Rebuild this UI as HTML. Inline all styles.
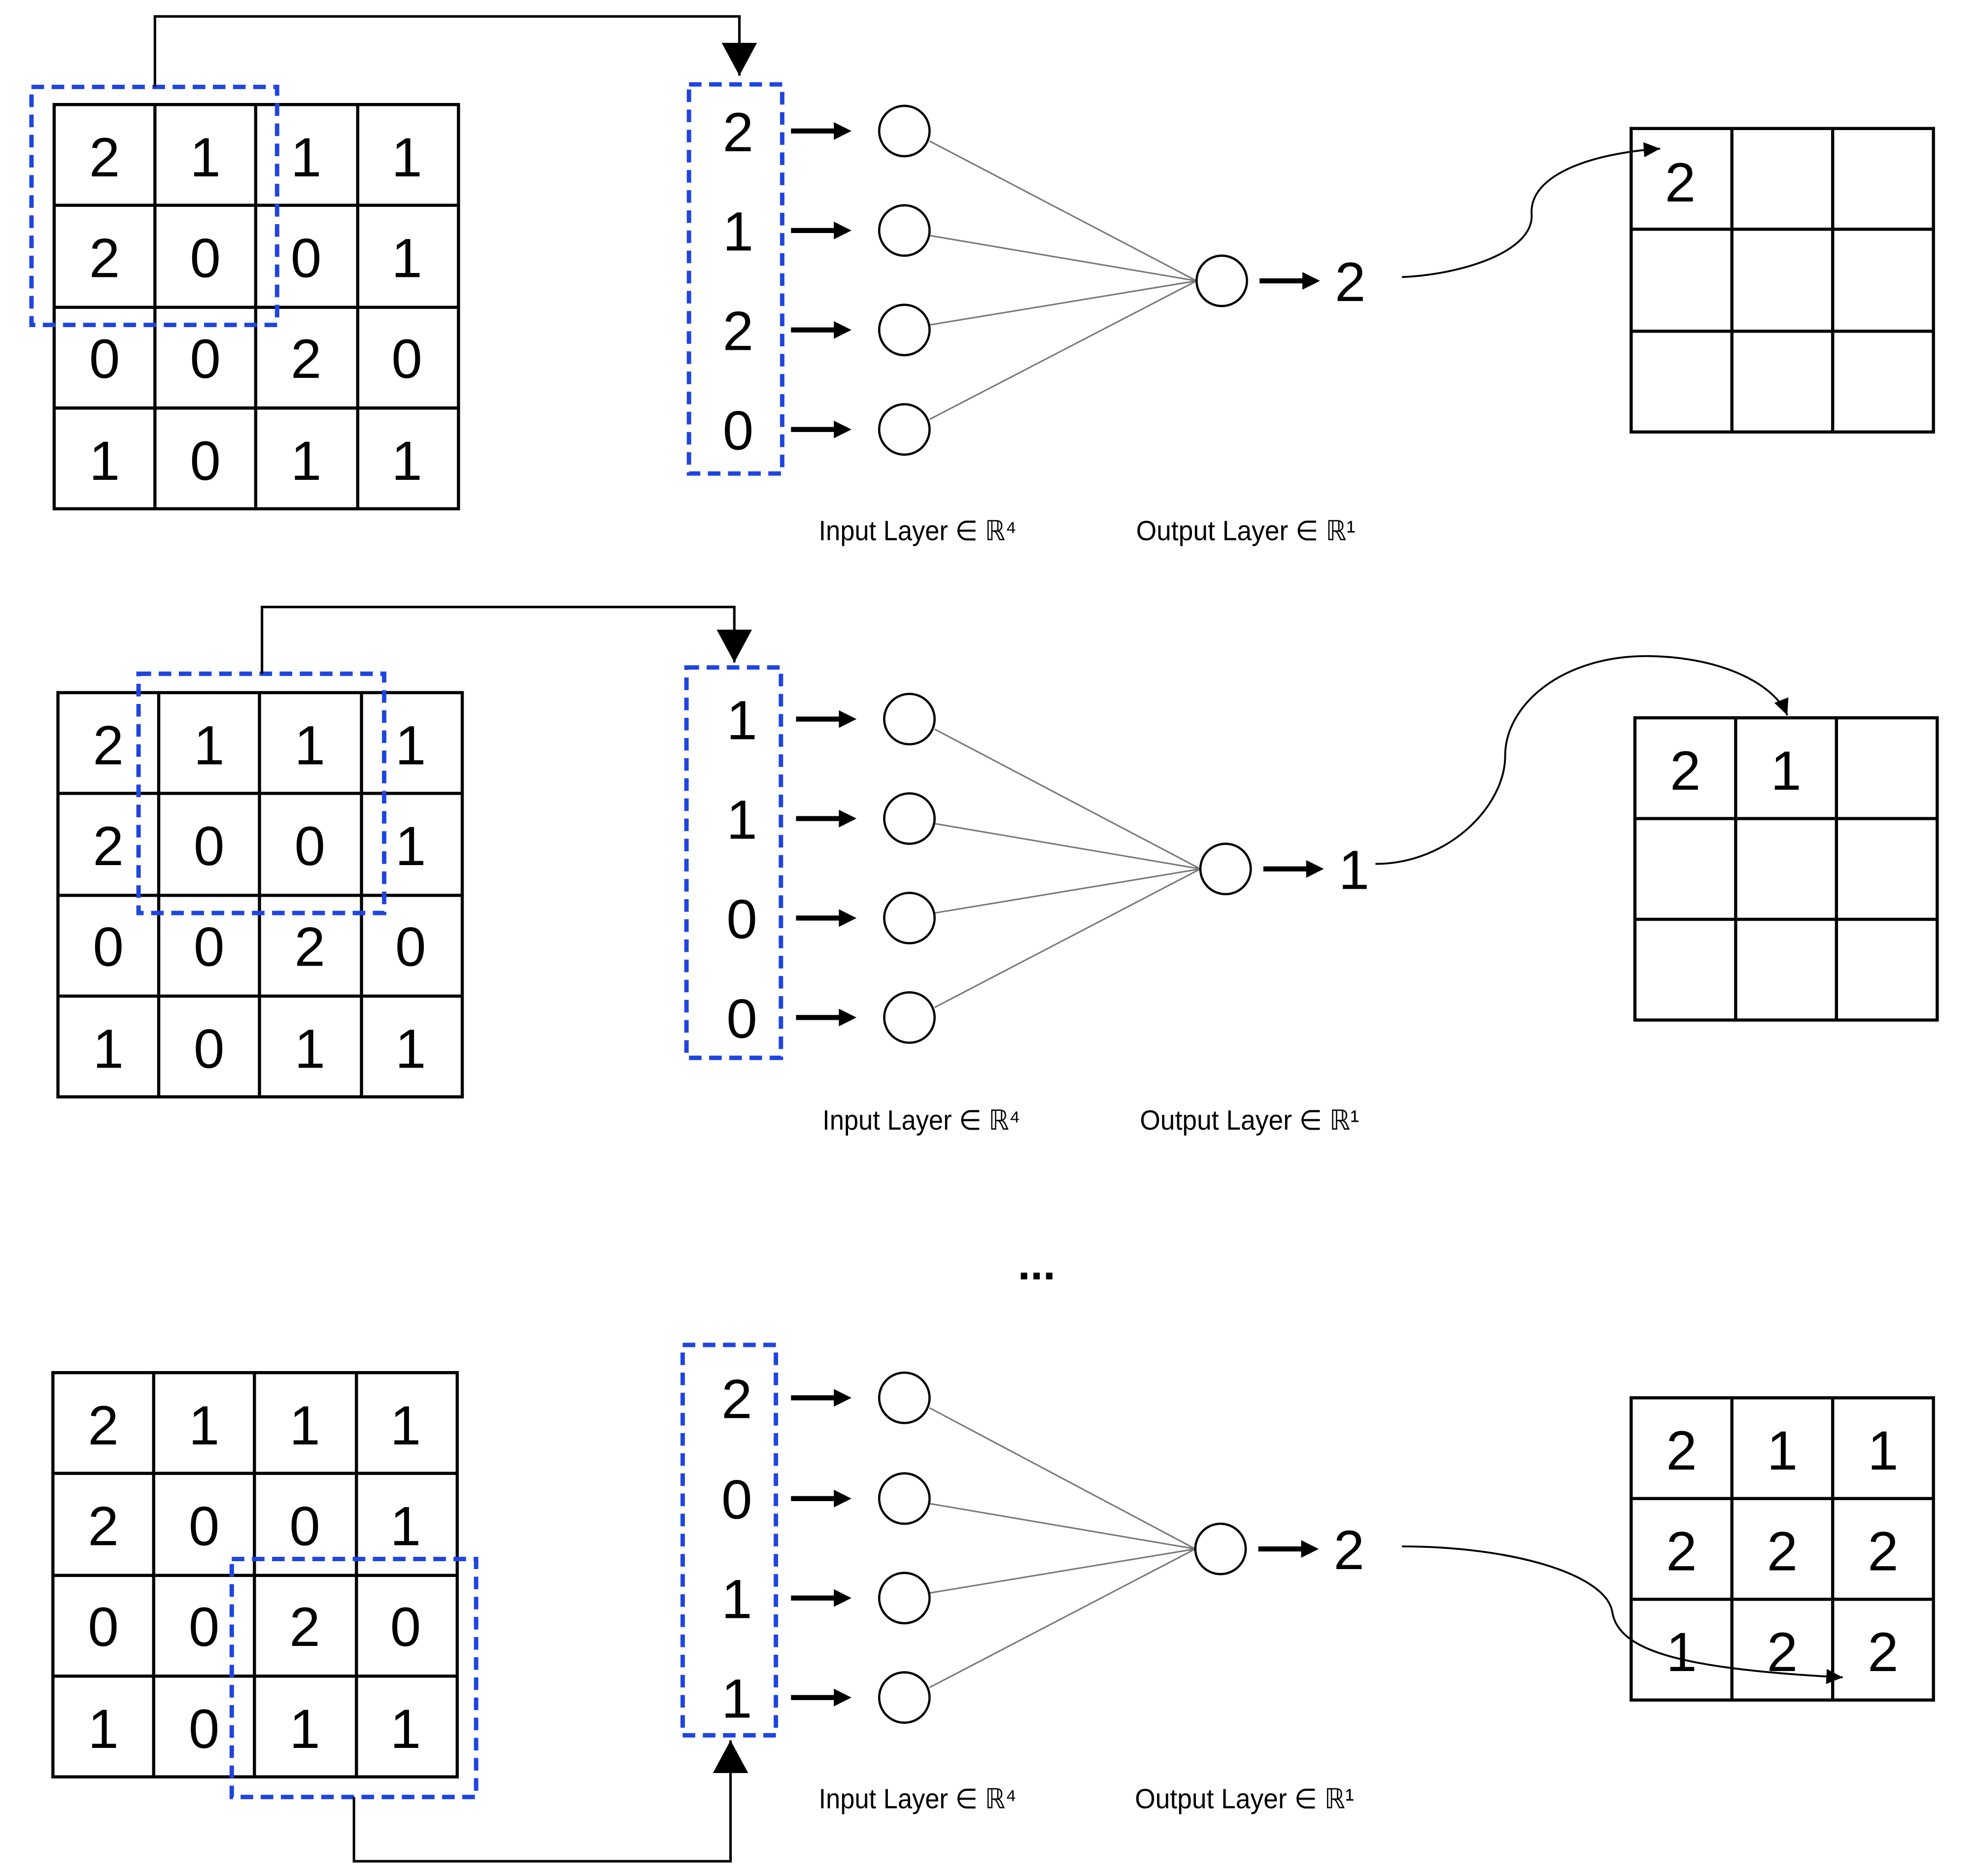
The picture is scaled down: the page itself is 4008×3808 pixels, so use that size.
<!DOCTYPE html>
<html><head><meta charset="utf-8"><style>html,body{margin:0;padding:0;background:#fff}svg{display:block}</style></head>
<body>
<svg width="4008" height="3808" viewBox="0 0 1568 1489.7" xmlns="http://www.w3.org/2000/svg" font-family="Liberation Sans, sans-serif">
<defs>
<marker id="ab" markerWidth="28" markerHeight="28" refX="26" refY="14" orient="auto" markerUnits="userSpaceOnUse"><path d="M0,0 L26,14 L0,28z" fill="#000"/></marker>
<marker id="as" markerWidth="14" markerHeight="14" refX="13" refY="7" orient="auto" markerUnits="userSpaceOnUse"><path d="M0,1 L13,7 L0,13z" fill="#000"/></marker>
<path id="arr" d="M0 -2H34V-7L48 0L34 7V2H0z" fill="#000"/>
</defs>
<g fill="none" stroke="#000" stroke-width="2.5">
<rect x="43" y="83" width="321" height="321"/>
<path d="M123 83V404M203 83V404M284 83V404M43 163H364M43 244H364M43 324H364"/>
<rect x="46" y="550" width="321" height="321"/>
<path d="M126 550V871M206 550V871M287 550V871M46 630H367M46 711H367M46 791H367"/>
<rect x="42" y="1090" width="321" height="321"/>
<path d="M122 1090V1411M202 1090V1411M283 1090V1411M42 1170H363M42 1251H363M42 1331H363"/>
<rect x="1295" y="102" width="240" height="241"/>
<path d="M1375 102V343M1455 102V343M1295 182H1535M1295 263H1535"/>
<rect x="1298" y="570" width="240" height="240"/>
<path d="M1378 570V810M1458 570V810M1298 650H1538M1298 730H1538"/>
<rect x="1295" y="1110" width="240" height="240"/>
<path d="M1375 1110V1350M1455 1110V1350M1295 1190H1535M1295 1270H1535"/>
</g>
<g fill="none" stroke="#1f45e0" stroke-width="3.5" stroke-dasharray="10,6">
<rect x="25" y="69" width="195" height="189"/>
<rect x="547" y="67" width="74" height="309"/>
<rect x="110" y="535" width="195" height="190"/>
<rect x="545" y="530" width="75" height="310"/>
<rect x="184" y="1238" width="194" height="189"/>
<rect x="542" y="1068" width="74" height="310"/>
</g>
<g fill="none" stroke="#000" stroke-width="2">
<path d="M123 69V13H587V60" marker-end="url(#ab)"/>
<path d="M208 535V482H583V526" marker-end="url(#ab)"/>
<path d="M281 1427V1478H580V1382" marker-end="url(#ab)"/>
</g>
<g fill="none" stroke="#000" stroke-width="1.5">
<path d="M1113 220C1160 218 1218 200 1216 170C1214 140 1260 122 1318 118" marker-end="url(#as)"/>
<path d="M1092 686C1150 686 1195 640 1195 600C1195 560 1240 520 1310 521C1370 522 1410 545 1419 568" marker-end="url(#as)"/>
<path d="M1113 1228C1200 1228 1275 1250 1280 1280C1285 1310 1330 1325 1463 1332" marker-end="url(#as)"/>
</g>
<use href="#arr" x="628" y="104"/><use href="#arr" x="628" y="183"/><use href="#arr" x="628" y="262"/><use href="#arr" x="628" y="341"/><use href="#arr" x="1000" y="223"/>
<use href="#arr" x="632" y="571"/><use href="#arr" x="632" y="650"/><use href="#arr" x="632" y="729"/><use href="#arr" x="632" y="808"/><use href="#arr" x="1003" y="690"/>
<use href="#arr" x="628" y="1110"/><use href="#arr" x="628" y="1190"/><use href="#arr" x="628" y="1269"/><use href="#arr" x="628" y="1348"/><use href="#arr" x="999" y="1230"/>
<g stroke="#777" stroke-width="1.2">
<path d="M738 112L950 223M738 187L950 223M738 258L950 223M738 333L950 223"/>
<path d="M742 579L953 690M742 654L953 690M742 725L953 690M742 800L953 690"/>
<path d="M738 1118L949 1230M738 1194L949 1230M738 1265L949 1230M738 1340L949 1230"/>
</g>
<g fill="#fff" stroke="#000" stroke-width="1.8">
<circle cx="718" cy="104" r="20"/><circle cx="718" cy="183" r="20"/><circle cx="718" cy="262" r="20"/><circle cx="718" cy="341" r="20"/><circle cx="970" cy="223" r="20"/>
<circle cx="722" cy="571" r="20"/><circle cx="722" cy="650" r="20"/><circle cx="722" cy="729" r="20"/><circle cx="722" cy="808" r="20"/><circle cx="973" cy="690" r="20"/>
<circle cx="718" cy="1110" r="20"/><circle cx="718" cy="1190" r="20"/><circle cx="718" cy="1269" r="20"/><circle cx="718" cy="1348" r="20"/><circle cx="969" cy="1230" r="20"/>
</g>
<g font-size="44" text-anchor="middle" fill="#000">
<text x="83" y="140">2</text><text x="163" y="140">1</text><text x="243" y="140">1</text><text x="323" y="140">1</text>
<text x="83" y="220">2</text><text x="163" y="220">0</text><text x="243" y="220">0</text><text x="323" y="220">1</text>
<text x="83" y="300">0</text><text x="163" y="300">0</text><text x="243" y="300">2</text><text x="323" y="300">0</text>
<text x="83" y="381">1</text><text x="163" y="381">0</text><text x="243" y="381">1</text><text x="323" y="381">1</text>

<text x="86" y="607">2</text><text x="166" y="607">1</text><text x="246" y="607">1</text><text x="326" y="607">1</text>
<text x="86" y="687">2</text><text x="166" y="687">0</text><text x="246" y="687">0</text><text x="326" y="687">1</text>
<text x="86" y="767">0</text><text x="166" y="767">0</text><text x="246" y="767">2</text><text x="326" y="767">0</text>
<text x="86" y="848">1</text><text x="166" y="848">0</text><text x="246" y="848">1</text><text x="326" y="848">1</text>

<text x="82" y="1147">2</text><text x="162" y="1147">1</text><text x="242" y="1147">1</text><text x="322" y="1147">1</text>
<text x="82" y="1227">2</text><text x="162" y="1227">0</text><text x="242" y="1227">0</text><text x="322" y="1227">1</text>
<text x="82" y="1307">0</text><text x="162" y="1307">0</text><text x="242" y="1307">2</text><text x="322" y="1307">0</text>
<text x="82" y="1388">1</text><text x="162" y="1388">0</text><text x="242" y="1388">1</text><text x="322" y="1388">1</text>

<text x="586" y="120">2</text><text x="586" y="199">1</text><text x="586" y="278">2</text><text x="586" y="357">0</text>
<text x="589" y="587">1</text><text x="589" y="666">1</text><text x="589" y="745">0</text><text x="589" y="824">0</text>
<text x="585" y="1126">2</text><text x="585" y="1206">0</text><text x="585" y="1285">1</text><text x="585" y="1364">1</text>

<text x="1072" y="239">2</text><text x="1075" y="706">1</text><text x="1071" y="1246">2</text>

<text x="1334" y="160">2</text>
<text x="1338" y="627">2</text><text x="1418" y="627">1</text>
<text x="1335" y="1167">2</text><text x="1415" y="1167">1</text><text x="1495" y="1167">1</text>
<text x="1335" y="1247">2</text><text x="1415" y="1247">2</text><text x="1495" y="1247">2</text>
<text x="1335" y="1327">1</text><text x="1415" y="1327">2</text><text x="1495" y="1327">2</text>
</g>
<text x="823" y="1016" font-size="36" font-weight="bold" text-anchor="middle">...</text>
<g font-size="22" fill="#000">
<text x="650" y="429" textLength="157" lengthAdjust="spacingAndGlyphs">Input Layer ∈ ℝ⁴</text>
<text x="902" y="429" textLength="174" lengthAdjust="spacingAndGlyphs">Output Layer ∈ ℝ¹</text>
<text x="653" y="897" textLength="157" lengthAdjust="spacingAndGlyphs">Input Layer ∈ ℝ⁴</text>
<text x="905" y="897" textLength="174" lengthAdjust="spacingAndGlyphs">Output Layer ∈ ℝ¹</text>
<text x="650" y="1436" textLength="157" lengthAdjust="spacingAndGlyphs">Input Layer ∈ ℝ⁴</text>
<text x="901" y="1436" textLength="174" lengthAdjust="spacingAndGlyphs">Output Layer ∈ ℝ¹</text>
</g>
</svg>
</body></html>
